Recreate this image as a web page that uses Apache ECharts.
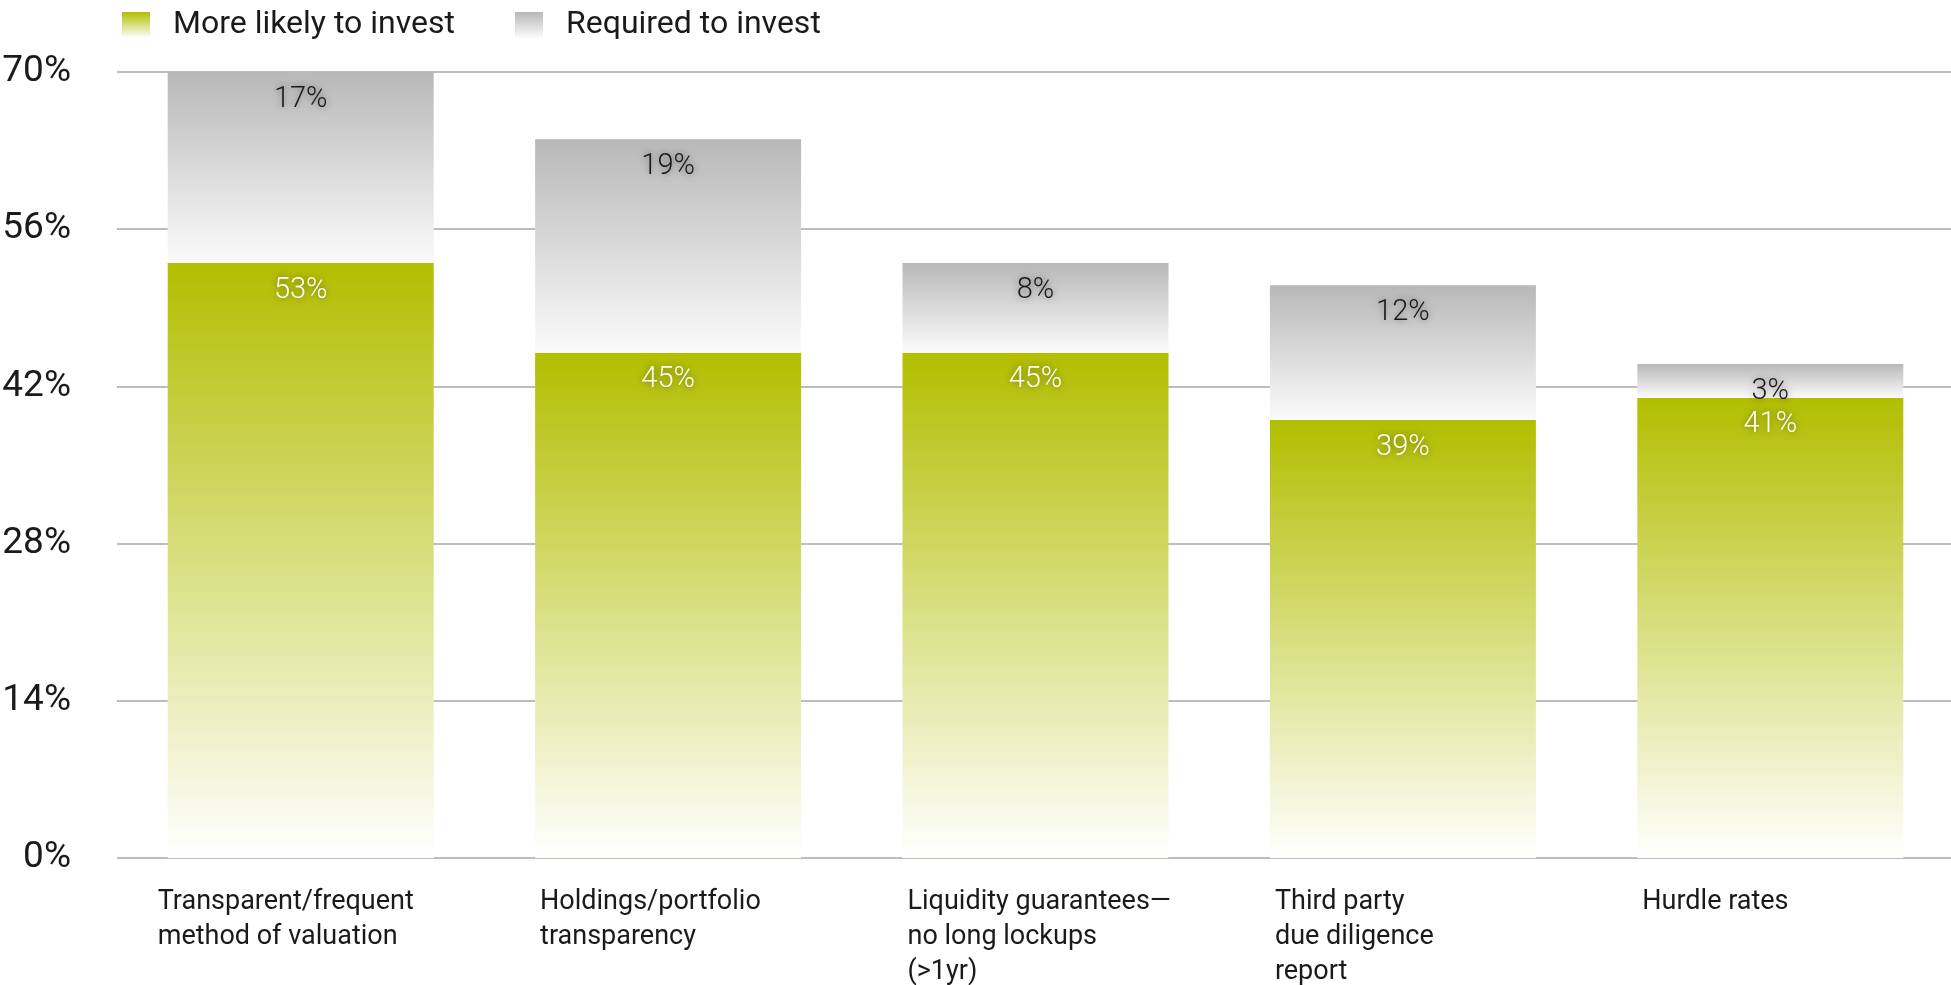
<!DOCTYPE html>
<html>
<head>
<meta charset="utf-8">
<title>Investment conditions</title>
<script src="https://cdn.jsdelivr.net/npm/echarts@6/dist/echarts.min.js"></script>
<style>
  html, body { margin: 0; padding: 0; background: #ffffff; }
  #chart { width: 1951px; height: 985px; }
</style>
</head>
<body>
<div id="chart"></div>
<script>
// Survey factors
const categories = [
  'Transparent/frequent\nmethod of valuation',
  'Holdings/portfolio\ntransparency',
  'Liquidity guarantees—\nno long lockups\n(>1yr)',
  'Third party\ndue diligence\nreport',
  'Hurdle rates'
];
// Share of respondents (%)
const moreLikely = [53, 45, 45, 39, 41];
const required = [17, 19, 8, 12, 3];
// Y axis ticks
const yTicks = [0, 14, 28, 42, 56, 70];

const FONT = 'Roboto, "Liberation Sans", sans-serif';

function vGrad(top, bottom) {
  return new echarts.graphic.LinearGradient(0, 0, 0, 1, [
    { offset: 0, color: top },
    { offset: 1, color: bottom }
  ]);
}

const valueLabel = (color) => ({
  show: true,
  position: 'insideTop',
  distance: 13,
  formatter: '{c}%',
  color: color,
  fontFamily: FONT,
  fontWeight: 300,
  fontSize: 29,
  textShadowColor: 'rgba(0,0,0,0.45)',
  textShadowBlur: 7
});

const legendText = {
  fontFamily: FONT,
  fontSize: 32,
  color: '#1a1a1a',
  padding: [0, 0, 0, 18]
};

const chart = echarts.init(document.getElementById('chart'), null, { renderer: 'canvas' });

chart.setOption({
  animation: false,
  backgroundColor: '#ffffff',
  legend: [
    {
      data: ['More likely to invest'],
      left: 122, top: 9, padding: 0,
      itemWidth: 28, itemHeight: 26,
      icon: 'rect',
      textStyle: legendText
    },
    {
      data: ['Required to invest'],
      left: 515, top: 9, padding: 0,
      itemWidth: 28, itemHeight: 26,
      icon: 'rect',
      textStyle: legendText
    }
  ],
  grid: { left: 117, top: 72, width: 1837, bottom: 127, containLabel: false, outerBoundsMode: 'none' },
  xAxis: {
    type: 'category',
    data: categories.map((c, i) => ({ value: c, textStyle: { width: i === 0 ? 286 : 256 } })),
    axisLine: { show: false },
    axisTick: { show: false },
    axisLabel: {
      interval: 0,
      margin: 27,
      fontFamily: FONT,
      fontSize: 27,
      lineHeight: 35,
      color: '#1a1a1a',
      align: 'center',
      width: 256,
      formatter: (v) => v.split('\n').map(s => '{t|' + s + '}').join('\n'),
      rich: { t: { fontFamily: FONT, fontSize: 27, lineHeight: 35, color: '#1a1a1a', align: 'left' } }
    }
  },
  yAxis: {
    type: 'value',
    min: yTicks[0],
    max: yTicks[yTicks.length - 1],
    interval: yTicks[1] - yTicks[0],
    axisLine: { show: false },
    axisTick: { show: false },
    axisLabel: {
      margin: 46,
      formatter: '{value}%',
      fontFamily: FONT,
      fontSize: 37,
      color: '#1a1a1a'
    },
    splitLine: { lineStyle: { color: '#bdbdbd', width: 2 } }
  },
  series: [
    {
      name: 'More likely to invest',
      type: 'bar',
      stack: 'total',
      barWidth: 266,
      data: moreLikely,
      itemStyle: { color: vGrad('#b2be00', '#ffffff') },
      label: valueLabel('#ffffff')
    },
    {
      name: 'Required to invest',
      type: 'bar',
      stack: 'total',
      barWidth: 266,
      data: required,
      itemStyle: { color: vGrad('#b8b8b8', '#fbfbfb') },
      label: valueLabel('#1a1a1a')
    }
  ]
});
</script>
</body>
</html>
